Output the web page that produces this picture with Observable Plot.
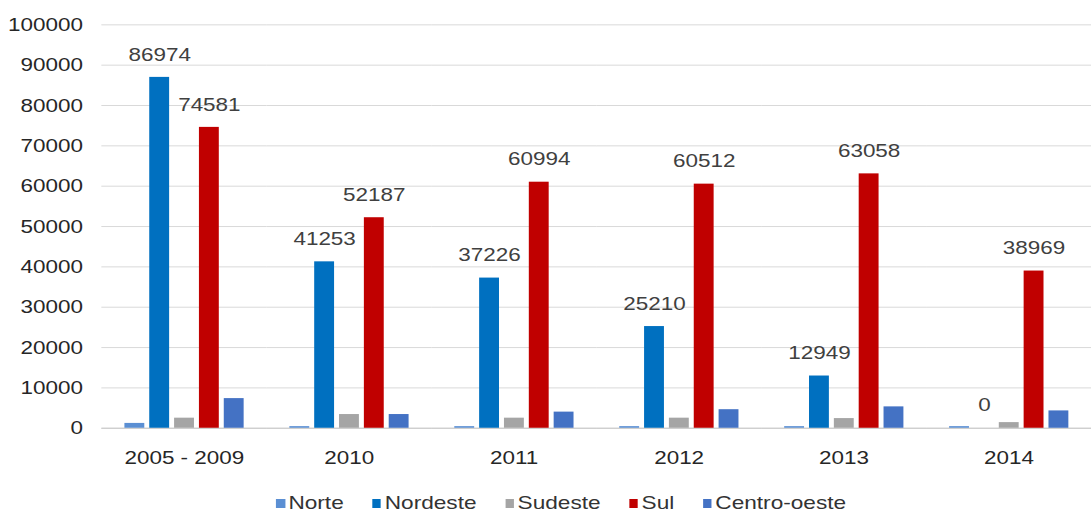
<!DOCTYPE html>
<html>
<head>
<meta charset="utf-8">
<script src="https://cdn.jsdelivr.net/npm/d3@7"></script>
<script src="https://cdn.jsdelivr.net/npm/@observablehq/plot@0.6"></script>
<style>
  html, body { margin: 0; padding: 0; background: #fff; overflow: hidden; width: 1092px; height: 513px; }
  #chart svg { display: block; }
  #legend { position: absolute; left: 0; top: 480px; width: 1092px; height: 33px; }
  #legend .inner {
    position: absolute; left: 561px; top: 12px; transform: translateX(-50%) scaleX(1.19);
    display: flex; align-items: center; white-space: nowrap;
    font-family: "Liberation Sans", Arial, sans-serif; font-size: 19px; color: #333; line-height: 22px;
  }
  #legend .item { display: flex; align-items: center; margin: 0 12px; }
  #legend .sw { width: 7.5px; height: 9px; margin-right: 3px; }
</style>
</head>
<body>
<div id="chart"></div>
<div id="legend"><div class="inner"></div></div>
<script>
const categories = ["2005 - 2009", "2010", "2011", "2012", "2013", "2014"];
const regions = ["Norte", "Nordeste", "Sudeste", "Sul", "Centro-oeste"];
const colors = ["#5B8FD3", "#0070C0", "#A5A5A5", "#C00000", "#4472C4"];
const norte = [1200, 400, 400, 400, 400, 400];
const nordeste = [86974, 41253, 37226, 25210, 12949, 0];
const sudeste = [2500, 3400, 2500, 2500, 2400, 1400];
const sul = [74581, 52187, 60994, 60512, 63058, 38969];
const centroOeste = [7350, 3400, 4000, 4600, 5300, 4300];
const labelled = ["Nordeste", "Sul"];
const yTicks = [0, 10000, 20000, 30000, 40000, 50000, 60000, 70000, 80000, 90000, 100000];

const series = [norte, nordeste, sudeste, sul, centroOeste];
const data = categories.flatMap((c, i) => regions.map((r, j) => ({category: c, region: r, value: series[j][i]})));

const S = 1.19; // horizontal text stretch of the reference

const chart = Plot.plot({
  width: 1099,
  height: 480,
  marginLeft: 100.8,
  marginRight: 0,
  marginTop: 24.5,
  marginBottom: 49.5,
  style: {fontFamily: "'Liberation Sans', Arial, sans-serif", fontSize: "19px", background: "#fff", color: "#333"},
  fx: {domain: categories, paddingInner: 0, paddingOuter: 0, label: null},
  x: {domain: regions, paddingInner: 0.22, paddingOuter: 0.85, axis: null},
  y: {domain: [0, 100000], axis: null, label: null},
  color: {domain: regions, range: colors},
  marks: [
    Plot.gridY(yTicks, {stroke: "#d9d9d9", strokeOpacity: 1}),
    Plot.ruleY([0], {stroke: "#c8c8c8"}),
    Plot.barY(data, {fx: "category", x: "region", y: "value", fill: "region"}),
    Plot.text(data.filter(d => labelled.includes(d.region)), {
      fx: "category", x: "region", y: "value", text: d => String(d.value),
      dy: -23, fill: "#404040", fontSize: 19, lineAnchor: "middle"
    }),
    Plot.axisY(yTicks, {tickSize: 0, tickPadding: 19, tickFormat: d => String(d), fontSize: 19, fill: "#262626", label: null}),
    Plot.axisFx({anchor: "bottom", tickSize: 0, tickPadding: 22, fontSize: 19, fill: "#262626", label: null})
  ]
});

document.getElementById("chart").appendChild(chart);

// reproduce the horizontally stretched lettering of the reference
chart.querySelectorAll("text").forEach(t => {
  const L = t.getComputedTextLength();
  if (L > 0) {
    t.setAttribute("textLength", (L * S).toFixed(2));
    t.setAttribute("lengthAdjust", "spacingAndGlyphs");
  }
});

const inner = document.querySelector("#legend .inner");
regions.forEach((r, i) => {
  const item = document.createElement("div");
  item.className = "item";
  const sw = document.createElement("span");
  sw.className = "sw";
  sw.style.background = colors[i];
  const tx = document.createElement("span");
  tx.textContent = r;
  item.appendChild(sw);
  item.appendChild(tx);
  inner.appendChild(item);
});
</script>
</body>
</html>
